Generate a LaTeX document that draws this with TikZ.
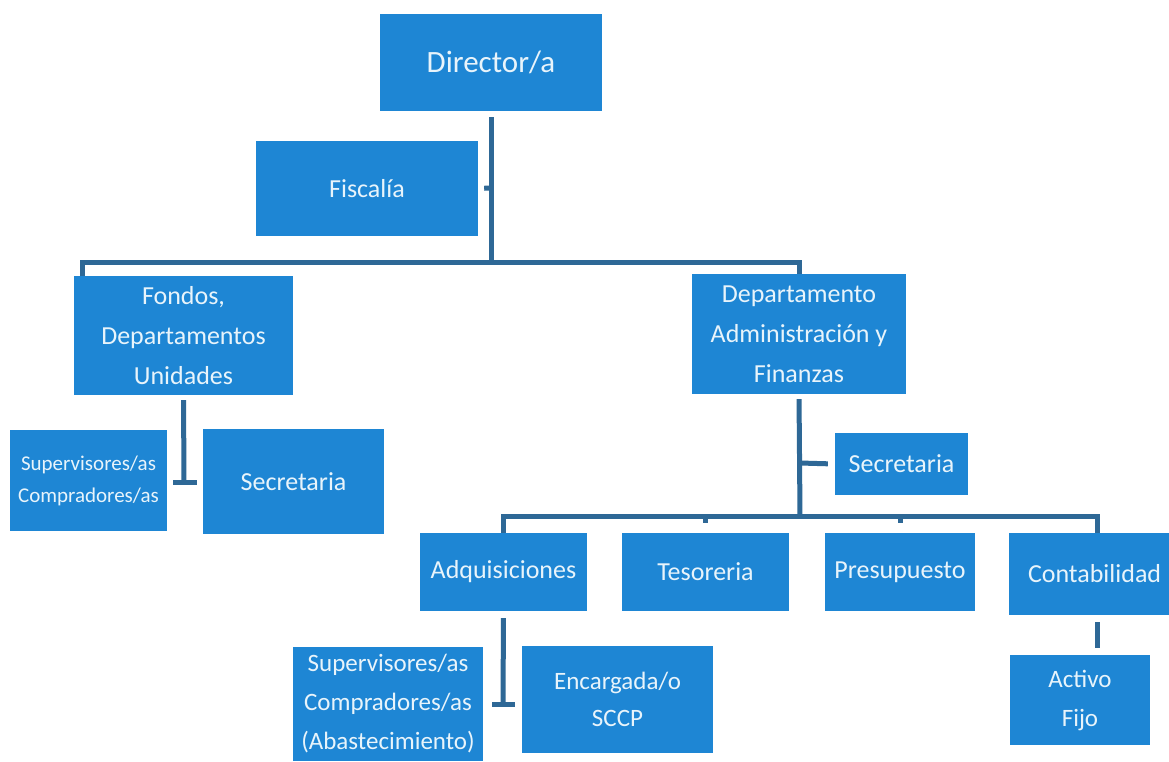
\documentclass[tikz,border=0pt]{standalone}
\usepackage{fontspec}
\setmainfont{Carlito}
\definecolor{boxblue}{RGB}{30,134,212}
\definecolor{lineblue}{RGB}{46,104,150}
\definecolor{txt}{RGB}{232,244,251}
\begin{document}
\begin{tikzpicture}[x=1pt,y=-1pt,
  box/.style={rectangle,fill=boxblue,text=txt,align=center,inner sep=0pt,font=\fontsize{26}{40}\selectfont},
  conn/.style={draw=lineblue,line width=5pt}]
\useasboundingbox[fill=white] (0,0) rectangle (1169,761);
% nodes
\node[box,minimum width=222,minimum height=97,font=\fontsize{31}{40}\selectfont] (dir) at (491,62.5) {Director/a};
\node[box,minimum width=222,minimum height=95] (fisc) at (367,188.5) {Fiscalía};
\node[box,minimum width=219,minimum height=119] (fond) at (183.5,335.5) {Fondos,\\Departamentos\\Unidades};
\node[box,minimum width=214,minimum height=120] (daf) at (799,334) {Departamento\\Administración y\\Finanzas};
\node[box,minimum width=157,minimum height=101,font=\fontsize{21}{32}\selectfont] (supl) at (88.5,480.5) {Supervisores/as\\Compradores/as};
\node[box,minimum width=181,minimum height=105] (secl) at (293.5,481.5) {Secretaria};
\node[box,minimum width=133,minimum height=62] (secr) at (901.5,464) {Secretaria};
\node[box,minimum width=167,minimum height=78] (adq) at (503.5,572) {Adquisiciones};
\node[box,minimum width=167,minimum height=78] (tes) at (705.5,572) {Tesoreria};
\node[box,minimum width=150,minimum height=78] (pre) at (900,572) {Presupuesto};
\node[box,minimum width=176,minimum height=82,text width=176,align=left] (con) at (1097,574) {\hspace*{19pt}Contabilidad};
\node[box,minimum width=190,minimum height=114,font=\fontsize{25}{39}\selectfont] (supa) at (388,704) {Supervisores/as\\Compradores/as\\(Abastecimiento)};
\node[box,minimum width=191,minimum height=107,font=\fontsize{25}{37}\selectfont] (enc) at (617.5,699.5) {Encargada/o\\SCCP};
\node[box,minimum width=140,minimum height=90,font=\fontsize{25}{39}\selectfont] (act) at (1080,700) {Activo\\Fijo};
% junction coordinates
\coordinate (j1) at (491,262);
\coordinate (ft) at (491,188);
\coordinate (fl) at (82,276);
\coordinate (fb) at (184,482);
\coordinate (fbl) at (173,482);
\coordinate (fbr) at (197,482);
\coordinate (j2) at (800,516);
\coordinate (st) at (800,463);
\coordinate (ab) at (503,704);
\coordinate (abl) at (492,704);
\coordinate (abr) at (515,704);
% connectors
\draw[conn,shorten <=6pt] (dir.south) -- (j1);
\draw[conn,shorten >=6pt] (ft) -- (fisc.east);
\draw[conn] (fl) |- (j1) -| (daf.north);
\draw[conn,shorten <=5pt] (fond.south) -- (fb);
\draw[conn] (fbl) -- (fbr);
\draw[conn,shorten <=5pt] (daf.south) -- (j2);
\draw[conn,shorten >=7pt] (st) -- (secr.west);
\draw[conn] (adq.north) |- (j2) -| (con.north);
\draw[conn,shorten <=10pt] (tes.north) -- (tes.north |- j2);
\draw[conn,shorten <=10pt] (pre.north) -- (pre.north |- j2);
\draw[conn,shorten <=7pt] (adq.south) -- (ab);
\draw[conn] (abl) -- (abr);
\draw[conn,shorten <=7pt,shorten >=7pt] (con.south) -- (con.south |- act.north);
\end{tikzpicture}
\end{document}
